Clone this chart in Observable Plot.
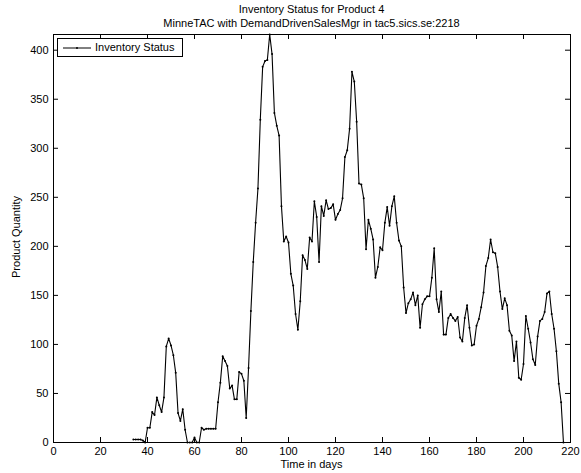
<!DOCTYPE html>
<html><head><meta charset="utf-8">
<script src="https://cdn.jsdelivr.net/npm/d3@7"></script>
<script src="https://cdn.jsdelivr.net/npm/@observablehq/plot@0.6"></script>
<style>
body{margin:0;background:#fff;font-family:"Liberation Sans",Arial,Helvetica,sans-serif;color:#000;}
#wrap{position:relative;width:581px;height:473px;overflow:hidden;}
#title{position:absolute;left:53px;width:517px;top:2px;text-align:center;font-size:11px;line-height:14px;}
#legend{position:absolute;left:57px;top:38px;width:124px;height:17px;border:1px solid #000;background:#fff;font-size:11px;}
#legend svg{position:absolute;left:4px;top:4px;}
#legend span{position:absolute;left:37px;top:2px;line-height:13px;}
#xlabel{position:absolute;left:53px;width:517px;top:458px;text-align:center;font-size:11px;}
#ylabel{position:absolute;left:16px;top:237px;font-size:11px;transform:translate(-50%,-50%) rotate(-90deg);white-space:nowrap;}
</style></head><body>
<div id="wrap">
<div id="chart"></div>
<div id="title">Inventory Status for Product 4<br>MinneTAC with DemandDrivenSalesMgr in tac5.sics.se:2218</div>
<div id="legend"><svg width="30" height="10"><line x1="1" y1="5" x2="29" y2="5" stroke="#000" stroke-width="1"/><circle cx="15" cy="5" r="1" fill="#000"/></svg><span>Inventory Status</span></div>
<div id="xlabel">Time in days</div>
<div id="ylabel">Product Quantity</div>
</div>
<script>
const seriesName = "Inventory Status";
const firstDay = 34;
const inventory = [
  3, 3, 3, 3, 2, 0, 15, 15, 31, 28, 46, 38, 31, 46, 98, 106, 99, 89, 71, 30,
  22, 34, 13, 0, 0, 0, 5, 0, 0, 15, 13, 14, 14, 14, 14, 14, 41, 61, 88, 83,
  78, 55, 58, 44, 44, 72, 70, 63, 25, 76, 134, 184, 224, 259, 329, 383, 389, 390, 416, 396,
  336, 323, 313, 241, 205, 210, 204, 172, 160, 131, 115, 144, 191, 186, 177, 209, 205, 246, 230, 184,
  241, 231, 247, 238, 239, 243, 227, 233, 237, 249, 291, 298, 320, 378, 368, 327, 264, 263, 249, 197,
  227, 218, 207, 168, 179, 199, 196, 224, 240, 221, 241, 251, 224, 206, 200, 158, 132, 142, 146, 153,
  140, 150, 117, 141, 146, 149, 149, 168, 198, 146, 133, 154, 110, 110, 127, 131, 127, 124, 128, 107,
  103, 127, 140, 117, 99, 100, 119, 126, 138, 153, 180, 188, 207, 194, 193, 179, 154, 136, 147, 140,
  114, 109, 83, 103, 66, 64, 80, 129, 116, 102, 85, 79, 108, 124, 126, 133, 152, 154, 131, 116,
  93, 60, 41, 0
];
const xTicks = [0, 20, 40, 60, 80, 100, 120, 140, 160, 180, 200, 220];
const yTicks = [0, 50, 100, 150, 200, 250, 300, 350, 400];

const data = inventory.map((q, i) => ({day: firstDay + i, qty: q}));

const W = 581, H = 473, mL = 53, mR = 11, mT = 34, mB = 31;
const frameW = W - mL - mR, frameH = H - mT - mB;
const tick = 5;

const chart = Plot.plot({
  width: W, height: H,
  marginLeft: mL, marginRight: mR, marginTop: mT, marginBottom: mB,
  style: {fontFamily: "'Liberation Sans', Arial, Helvetica, sans-serif", fontSize: "11px", color: "#000", background: "#fff", overflow: "visible"},
  x: {domain: [0, 220], ticks: xTicks, tickSize: 0, tickPadding: 5, label: null},
  y: {domain: [0, 416], ticks: yTicks, tickSize: 0, tickPadding: 5, label: null},
  marks: [
    Plot.tickX(xTicks, {x: d => d, insetTop: frameH - tick, stroke: "#000"}),
    Plot.tickX(xTicks, {x: d => d, insetBottom: frameH - tick, stroke: "#000"}),
    Plot.tickY(yTicks, {y: d => d, insetRight: frameW - tick, stroke: "#000"}),
    Plot.tickY(yTicks, {y: d => d, insetLeft: frameW - tick, stroke: "#000"}),
    Plot.line(data, {x: "day", y: "qty", stroke: "#000", strokeWidth: 1.1}),
    Plot.dot(data, {x: "day", y: "qty", r: 1, fill: "#000", stroke: null}),
    Plot.frame({stroke: "#000", strokeWidth: 1})
  ]
});
document.getElementById("chart").appendChild(chart);
</script>
</body></html>
